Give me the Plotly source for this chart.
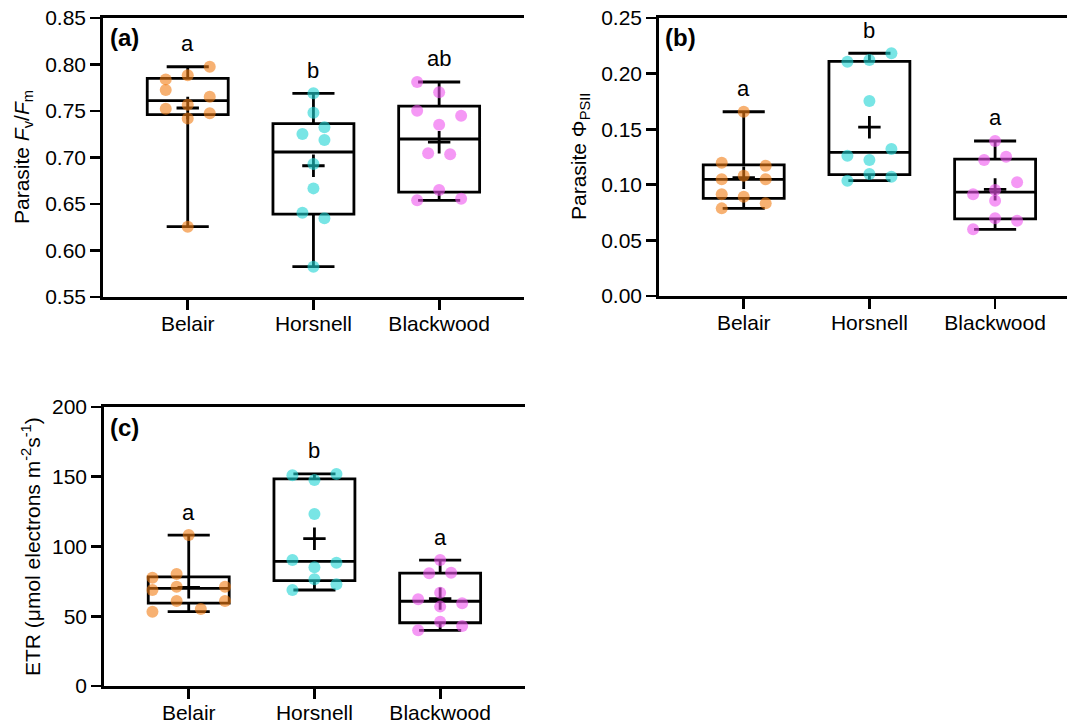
import numpy as np
import plotly.graph_objects as go

# ---------------- data ----------------
sites = ["Belair", "Horsnell", "Blackwood"]

fvfm_belair = [0.7976, 0.7884, 0.784, 0.7726, 0.7654, 0.7568, 0.7525, 0.7475, 0.742, 0.6256]
fvfm_horsnell = [0.769, 0.7482, 0.7325, 0.7253, 0.7188, 0.693, 0.6668, 0.6407, 0.6346, 0.5826]
fvfm_blackwood = [0.7812, 0.7701, 0.7503, 0.745, 0.7353, 0.7045, 0.7034, 0.665, 0.654, 0.6557]

phi_belair = [0.1657, 0.1199, 0.1172, 0.1049, 0.1082, 0.1049, 0.0914, 0.0893, 0.0833, 0.0788]
phi_horsnell = [0.2183, 0.2107, 0.2122, 0.1754, 0.1322, 0.1262, 0.1223, 0.1097, 0.1073, 0.1037]
phi_blackwood = [0.1394, 0.1223, 0.1253, 0.1022, 0.0914, 0.0953, 0.0857, 0.0699, 0.0677, 0.0600]

etr_belair = [108.2, 77.6, 80.3, 71.2, 68.8, 71.2, 60.9, 60.9, 53.3, 55.2]
etr_horsnell = [151.0, 152.0, 147.7, 123.3, 90.3, 88.4, 85.1, 76.5, 72.9, 68.8]
etr_blackwood = [90.3, 80.8, 81.2, 62.2, 66.9, 59.3, 56.9, 46.1, 43.0, 39.9]

letters_fvfm = ["a", "b", "ab"]
letters_phi = ["a", "b", "a"]
letters_etr = ["a", "b", "a"]

# ---------------- layout helpers (positions / styles) ----------------
swarm_fvfm = [[2, 0, -2, -2, 2, 0, -2, 2, 0, 0],
              [0, 0, 1, -1, 1, 0, 0, -1, 1, 0],
              [-2, 0, -2, 2, 0, -1, 1, 0, -2, 2]]
swarm_phi = [[0, -2, 2, -2, 0, 2, -2, 0, 2, -2],
             [2, -2, 0, 0, 2, -2, 0, 0, 2, -2],
             [0, -1, 1, 2, -2, 0, 0, 0, 2, -2]]
swarm_etr = [[0, -3.3, -1.1, -1.1, -3.3, 3.3, -1.1, 3.3, -3.3, 1.1],
             [-2, 2, 0, 0, -2, 2, 0, 0, 2, -2],
             [0, -1, 1, -2, 0, 2, 0, 0, 2, -2]]
SLOT = 0.0875

colors = ["rgba(242,125,20,0.6)", "rgba(30,212,212,0.6)", "rgba(238,84,238,0.6)"]
FONT = "Liberation Sans, Arial, sans-serif"
W, H = 1067, 726

panels = [
    dict(groups=[fvfm_belair, fvfm_horsnell, fvfm_blackwood], slots=swarm_fvfm,
         letters=letters_fvfm, xa="x", ya="y"),
    dict(groups=[phi_belair, phi_horsnell, phi_blackwood], slots=swarm_phi,
         letters=letters_phi, xa="x2", ya="y2"),
    dict(groups=[etr_belair, etr_horsnell, etr_blackwood], slots=swarm_etr,
         letters=letters_etr, xa="x3", ya="y3"),
]

fig = go.Figure()
annotations = []

for p in panels:
    groups = [np.array(g, dtype=float) for g in p["groups"]]
    xs = list(range(len(sites)))
    q1 = [float(np.percentile(g, 25, method="weibull")) for g in groups]
    q3 = [float(np.percentile(g, 75, method="weibull")) for g in groups]
    med = [float(np.median(g)) for g in groups]
    lo = [float(g.min()) for g in groups]
    hi = [float(g.max()) for g in groups]
    means = [float(g.mean()) for g in groups]

    fig.add_trace(go.Box(
        x=xs, q1=q1, median=med, q3=q3, lowerfence=lo, upperfence=hi,
        width=0.644, whiskerwidth=0.52, boxpoints=False,
        fillcolor="rgba(0,0,0,0)", line=dict(color="black", width=2.8),
        xaxis=p["xa"], yaxis=p["ya"], showlegend=False, hoverinfo="skip"))

    fig.add_trace(go.Scatter(
        x=xs, y=means, mode="markers",
        marker=dict(symbol="cross-thin", size=16, line=dict(color="black", width=2.8)),
        xaxis=p["xa"], yaxis=p["ya"], showlegend=False, hoverinfo="skip"))

    for i, g in enumerate(groups):
        fig.add_trace(go.Scatter(
            x=[i + s * SLOT for s in p["slots"][i]], y=list(g), mode="markers",
            marker=dict(size=12, color=colors[i], line=dict(width=0)),
            xaxis=p["xa"], yaxis=p["ya"], showlegend=False, hoverinfo="skip"))
        annotations.append(dict(
            x=i, y=hi[i], xref=p["xa"], yref=p["ya"], text=p["letters"][i],
            showarrow=False, yshift=23, yanchor="middle",
            font=dict(family=FONT, size=22, color="black")))

def xaxis_cfg(domain, rng, anchor):
    return dict(domain=domain, range=rng, anchor=anchor, tickmode="array",
                tickvals=[0, 1, 2], ticktext=sites, ticks="outside", ticklen=10,
                tickwidth=2.8, tickcolor="black", showline=True, linewidth=2.8,
                linecolor="black", mirror=True, showgrid=False, zeroline=False,
                automargin=False, ticklabelstandoff=-4,
                tickfont=dict(family=FONT, size=21, color="black"))

def yaxis_cfg(domain, rng, dtick, fmt, anchor):
    return dict(domain=domain, range=rng, anchor=anchor, dtick=dtick, tick0=0,
                tickformat=fmt, ticks="outside", ticklen=10, tickwidth=2.8,
                tickcolor="black", showline=True, linewidth=2.8, linecolor="black",
                showgrid=False, zeroline=False, automargin=False,
                tickfont=dict(family=FONT, size=21, color="black"))

fig.update_layout(
    width=W, height=H, margin=dict(l=0, r=0, t=0, b=0, pad=0, autoexpand=False),
    paper_bgcolor="white", plot_bgcolor="white",
    font=dict(family=FONT, color="black"),
    xaxis=xaxis_cfg([103 / W, 524 / W], [-0.674, 2.675], "y"),
    yaxis=yaxis_cfg([1 - 297 / H, 1 - 18 / H], [0.55, 0.85], 0.05, ".2f", "x"),
    xaxis2=xaxis_cfg([659 / W, 1.0], [-0.674, 2.572], "y2"),
    yaxis2=yaxis_cfg([1 - 296 / H, 1 - 18 / H], [0, 0.25], 0.05, ".2f", "x2"),
    xaxis3=xaxis_cfg([104 / W, 525 / W], [-0.674, 2.675], "y3"),
    yaxis3=yaxis_cfg([1 - 686 / H, 1 - 407 / H], [0, 200], 50, "d", "x3"),
)

# panel labels
for lab, px, py in [("(a)", 108, 38), ("(b)", 663, 38), ("(c)", 108, 427)]:
    annotations.append(dict(x=px / W, y=1 - py / H, xref="paper", yref="paper",
                            text="<b>%s</b>" % lab, showarrow=False, xanchor="left",
                            yanchor="middle", font=dict(family=FONT, size=24, color="black")))

# y-axis titles
for txt, px, py in [("Parasite <i>F</i><sub>v</sub>/<i>F</i><sub>m</sub>", 23, 157),
                    ("Parasite Φ<sub>PSII</sub>", 580, 157),
                    ("ETR (μmol electrons m<sup>-2</sup>s<sup>-1</sup>)", 31, 547)]:
    annotations.append(dict(x=px / W, y=1 - py / H, xref="paper", yref="paper",
                            text=txt, textangle=-90, showarrow=False,
                            xanchor="center", yanchor="middle",
                            font=dict(family=FONT, size=21, color="black")))

fig.update_layout(annotations=annotations)
fig.write_html(
    "out.html",
    config={"displayModeBar": False, "staticPlot": True},
    post_script="document.body.style.margin='0';document.body.style.padding='0';"
                "document.documentElement.style.overflow='hidden';",
)
